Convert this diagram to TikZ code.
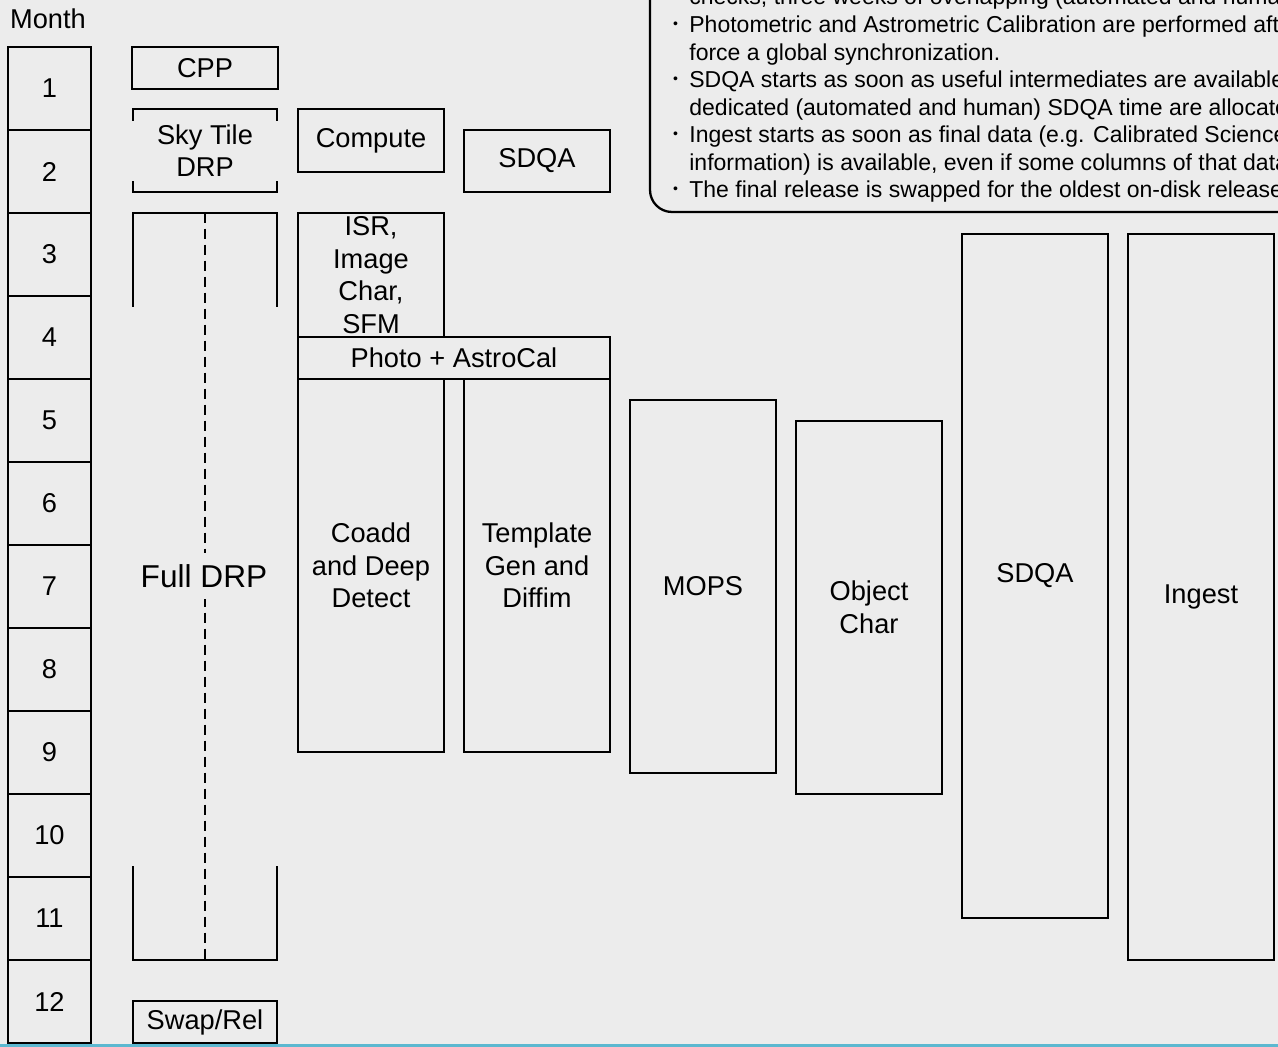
\documentclass[tikz,border=0pt]{standalone}
\usepackage{fontspec}
\setmainfont{Liberation Sans}
\usetikzlibrary{positioning}
\definecolor{bggray}{RGB}{236,236,236}
\definecolor{edgecyan}{RGB}{92,184,208}
\newcommand{\nbul}{\llap{\raisebox{0.35ex}{\fontsize{8}{8}\selectfont\textbullet}\hspace{6.5pt}}}

\begin{document}
\begin{tikzpicture}[x=0.02cm,y=-0.02cm,% one unit = one pixel of the schedule
      every node/.style={
        align=center,   % so that "\\" breaks lines
        inner sep=0pt,
        font=\fontsize{15.5}{18.5}\selectfont
      },
      monthbox/.style={rectangle,draw=black,line width=1.3pt,minimum width=1.66cm,minimum height=1.66cm},
      task/.style={rectangle,draw=black,line width=1.3pt,minimum width=2.92cm},
      bracket/.style={draw=black,line width=1.3pt},
      notes/.style={align=left,font=\fontsize{13.1}{15.7}\selectfont}
    ]
    \useasboundingbox (0,0) rectangle (1278,1047);
    \fill[bggray] (0,0) rectangle (1278,1047);
    \clip (0,0) rectangle (1278,1047);

    % month column
    \node(Month) at (48,19) {Month};
    \foreach \m in {1,...,12}
      \node[monthbox](M\m) at (49.5,{88.5+83*(\m-1)}) {\m};

    % first column
    \node[task,minimum height=0.84cm](CPP) at (205,68) {CPP};
    \node[minimum width=2.88cm,minimum height=1.66cm](SkyTile) at (205,150.5) {Sky Tile\\DRP};
    \node[minimum width=2.88cm,minimum height=14.94cm](FullDRP) at (205,586.5) {};
    \node[task,minimum width=2.88cm,minimum height=0.84cm](SwapRel) at (205,1022) {Swap/Rel};
    \draw[bracket] ([yshift=-0.24cm]SkyTile.north west) -- (SkyTile.north west) -- (SkyTile.north east) -- ([yshift=-0.24cm]SkyTile.north east);
    \draw[bracket] ([yshift=0.22cm]SkyTile.south west) -- (SkyTile.south west) -- (SkyTile.south east) -- ([yshift=0.22cm]SkyTile.south east);
    \draw[bracket] ([yshift=-1.88cm]FullDRP.north west) -- (FullDRP.north west) -- (FullDRP.north east) -- ([yshift=-1.88cm]FullDRP.north east);
    \draw[bracket] ([yshift=1.88cm]FullDRP.south west) -- (FullDRP.south west) -- (FullDRP.south east) -- ([yshift=1.88cm]FullDRP.south east);
    \draw[line width=1.3pt,dash pattern=on 0.2cm off 0.12cm] (FullDRP.north) -- (FullDRP.south);
    \node[fill=bggray,inner xsep=1pt,inner ysep=0.22cm,font=\fontsize{18}{20}\selectfont](FullLabel) at (204,576) {Full DRP};

    % processing boxes
    \node[task,minimum height=1.26cm](Compute) at (371,140.5) {Compute};
    \node[task,minimum height=1.24cm](SDQAsmall) at (537,161) {SDQA};
    \node[task,minimum height=2.48cm](ISR) at (371,275) {ISR,\\Image\\Char,\\SFM};
    \node[task,minimum width=6.24cm,minimum height=0.84cm](PhotoAstro) at (454,358) {Photo + AstroCal};
    \node[task,minimum height=7.46cm](Coadd) at (371,565.5) {Coadd\\and Deep\\Detect};
    \node[task,minimum height=7.46cm](Template) at (537,565.5) {Template\\Gen and\\Diffim};
    \node[task,minimum height=7.46cm](MOPS) at (703,586.5) {MOPS};
    \node[task,minimum height=7.46cm](ObjChar) at (869,607.5) {Object\\Char};
    \node[task,minimum height=13.68cm](SDQAbig) at (1035,576) {SDQA};
    \node[task,minimum height=14.52cm](Ingest) at (1201,597) {Ingest};

    % notes
    \draw[line width=1.3pt,rounded corners=0.44cm] (650,-60) -- (650,212) -- (1340,212);
    \node[notes,anchor=base west](Notes) at (689,198) {%
      checks, three weeks of overlapping (automated and human\\
      \nbul Photometric and Astrometric Calibration are performed after\\
      force a global synchronization.\\
      \nbul SDQA starts as soon as useful intermediates are available\\
      dedicated (automated and human) SDQA time are allocated\\
      \nbul Ingest starts as soon as final data (e.g. Calibrated Science\\
      information) is available, even if some columns of that data\\
      \nbul The final release is swapped for the oldest on-disk release};

    \draw[edgecyan,line width=1.8pt] (0,1045.5) -- (1278,1045.5);
  \end{tikzpicture}
\end{document}
